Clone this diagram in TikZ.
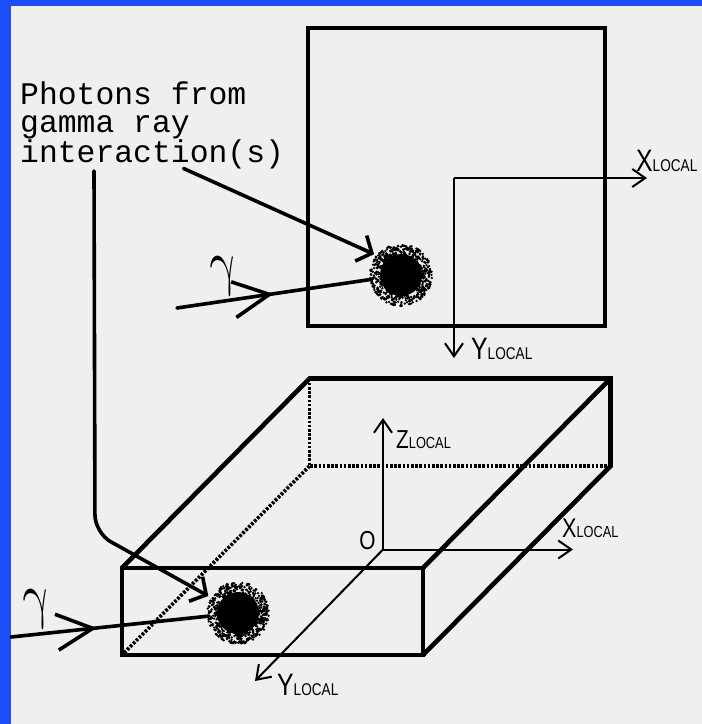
\documentclass[tikz,border=0pt]{standalone}
\usepackage{fontspec}
\usetikzlibrary{arrows.meta,decorations.markings}
\newfontfamily\labelfont[FakeStretch=0.8]{Liberation Sans}
\newfontfamily\notefont{Liberation Mono}
\newfontfamily\gammafont[FakeStretch=0.75]{latinmodern-math.otf}
\definecolor{paper}{RGB}{239,239,237}
\definecolor{frameblue}{RGB}{30,78,250}
\newcommand{\local}[3]{{\labelfont\fontsize{#2}{#2}\selectfont #1\fontsize{#3}{#3}\selectfont LOCAL}}

\begin{document}
\begin{tikzpicture}[x=1pt, y=-1pt,
  box/.style={line width=4.6pt, line join=miter},
  hidden/.style={line width=3.6pt, dash pattern=on 2.6pt off 1.6pt},
  axis/.style={line width=2pt, -{Straight Barb[length=13pt,width=18pt]}},
  photon/.style={line width=3.6pt, line cap=round, shorten >=5pt,
    -{Straight Barb[length=12pt,width=28pt]}},
  gammaray/.style={line width=3.6pt, line cap=round,
    postaction={decorate, decoration={markings,
      mark=at position #1 with {\arrow{Straight Barb[length=36pt,width=36pt]}}}}},
  blob/.style={circle, inner sep=0pt, minimum size=58pt},
  axislbl/.style={inner sep=0pt, anchor=base west},
  gammalbl/.style={inner sep=0pt, font=\gammafont\fontsize{62}{62}\selectfont},
]
% paper and blue frame
\fill[paper] (0,0) rectangle (702,724);
\fill[frameblue] (0,0) rectangle (11,724);
\fill[frameblue] (0,0) rectangle (702,6);
\useasboundingbox (0,0) rectangle (702,724);

% Top view: square detector
\draw[box] (308,28) rectangle (605,326);

\coordinate (otop) at (454,178);
\coordinate (xtop) at (647,178);
\coordinate (ytop) at (454,358);
\draw[axis] (otop) -- (xtop);
\draw[axis] (otop) -- (ytop);
\node[axislbl] (xtoplbl) at (636,171) {\local{X}{31}{17}};
\node[axislbl] (ytoplbl) at (471,359) {\local{Y}{31}{17}};

% Side view: slab detector
\coordinate (ftl) at (122,568);
\coordinate (ftr) at (423,568);
\coordinate (fbr) at (423,655);
\coordinate (fbl) at (122,655);
\coordinate (btl) at (309.5,378.5);
\coordinate (btr) at (610.5,378.5);
\coordinate (bbr) at (610.5,466);
\coordinate (bbl) at (309.5,466);

\draw[hidden] (btl) -- (bbl) -- (bbr);
\draw[hidden] (bbl) -- (fbl);
\draw[box] (ftl) rectangle (fbr);
\draw[box] (ftl) -- (btl) -- (btr) -- (bbr) -- (fbr);
\draw[box] (ftr) -- (btr);

\coordinate (o) at (383,549.5);
\coordinate (zend) at (383,418);
\coordinate (xend) at (573,549.5);
\coordinate (yend) at (255,681);
\draw[axis] (o) -- (zend);
\draw[axis] (o) -- (xend);
\draw[axis] (o) -- (yend);
\node[inner sep=0pt, font=\labelfont\fontsize{26}{26}\selectfont] (olbl) at (367.5,541) {O};
\node[axislbl] (zlbl) at (396,448) {\local{Z}{26}{16}};
\node[axislbl] (xlbl) at (562,537) {\local{X}{27}{16}};
\node[axislbl] (ylbl) at (277,695) {\local{Y}{31}{17}};

% Interaction spots
\node[blob] (blobtop) at (401,275) {};
\node[blob] (blobbot) at (238,613) {};
\pgfmathsetseed{42}
\foreach \c in {blobtop,blobbot}{
  \fill (\c) circle (21);
  \foreach \k in {1,...,900}{
    \pgfmathsetmacro\ang{360*rnd}
    \pgfmathsetmacro\rad{31*pow(rnd,0.55)}
    \fill (\c) ++(\ang:\rad) circle (1.3);
  }
}

% Incoming gamma rays
\coordinate (gtop) at (177,308);
\coordinate (gbot) at (11,637);
\draw[gammaray=0.494] (gtop) -- (blobtop);
\draw[gammaray=0.433] (gbot) -- (blobbot);
\node[gammalbl] (gtoplbl) at (223,276) {γ};
\node[gammalbl] (gbotlbl) at (36.5,609) {γ};

% Label and its pointers
\node[anchor=north west, align=left, inner sep=0pt,
  font=\notefont\fontsize{31.4}{27.5}\selectfont] (photons) at (20,82)
  {Photons from\\gamma ray\\interaction(s)};
\coordinate (src1) at (183.6,168.5);
\coordinate (src2) at (94,171);
\coordinate (bend) at (95,533);
\draw[photon] (src1) -- (blobtop.140);
\draw[photon, rounded corners=18pt] (src2) -- (bend) -- (blobbot.150);
\end{tikzpicture}
\end{document}
